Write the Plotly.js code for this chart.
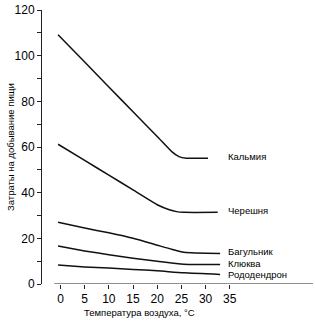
<!DOCTYPE html>
<html><head><meta charset="utf-8">
<script src="https://cdn.plot.ly/plotly-3.0.1.min.js"></script>
<style>html,body{margin:0;padding:0;background:#fff}</style>
</head><body><div id="chart" style="width:315px;height:324px"></div>
<script>
// Temperature (°C) and foraging costs
const kalmiaX = [-0.5, 5, 10, 15, 20, 23, 24.5, 26, 30.5];
const kalmiaY = [109.2, 97.2, 86.3, 75.4, 64.6, 58.0, 55.8, 55.1, 55.1];
const cherryX = [-0.5, 5, 10, 15, 20, 22.5, 24, 25.5, 32.5];
const cherryY = [61.2, 54.1, 47.7, 41.2, 34.7, 32.5, 31.7, 31.4, 31.4];
const ledumX = [-0.5, 5, 10, 15, 20, 23, 25.5, 33];
const ledumY = [27.0, 24.5, 22.4, 20.0, 17.0, 15.2, 13.9, 13.4];
const cranX = [-0.5, 5, 10, 15, 20, 25.5, 33];
const cranY = [16.6, 14.5, 12.8, 11.3, 10.0, 8.7, 8.5];
const rhodoX = [-0.5, 5, 10, 15, 20, 25.5, 33];
const rhodoY = [8.3, 7.5, 7.0, 6.4, 5.8, 4.9, 4.2];
const seriesNames = ["Кальмия", "Черешня", "Багульник", "Клюква", "Рододендрон"];
const labelY = [55.7, 32.2, 14.4, 9.0, 4.3];
const xTicks = [0, 5, 10, 15, 20, 25, 30, 35];
const yTicks = [0, 20, 40, 60, 80, 100, 120];

const xs = [kalmiaX, cherryX, ledumX, cranX, rhodoX];
const ys = [kalmiaY, cherryY, ledumY, cranY, rhodoY];
const traces = xs.map((x, i) => ({
  x: x, y: ys[i], type: 'scatter', mode: 'lines', name: seriesNames[i],
  line: {color: '#111', width: 1.5, shape: 'spline', smoothing: 0.6},
  hoverinfo: 'skip'
}));

const annotations = seriesNames.map((n, i) => ({
  x: 34.2, y: labelY[i], xref: 'x', yref: 'y', text: n, showarrow: false,
  xanchor: 'left', yanchor: 'middle',
  font: {family: 'Liberation Sans, Arial, sans-serif', size: 9.5, color: '#000'}
}));
annotations.push({
  xref: 'paper', yref: 'paper', x: (139 - 42) / 271, y: -0.105, yanchor: 'middle', xanchor: 'center',
  text: 'Температура воздуха, °С', showarrow: false,
  font: {family: 'Liberation Sans, Arial, sans-serif', size: 9.5, color: '#000'}
});
annotations.push({
  xref: 'paper', yref: 'paper', x: -0.118, y: 0.5, xanchor: 'center', yanchor: 'middle',
  text: 'Затраты на добывание пищи', textangle: -90, showarrow: false,
  font: {family: 'Liberation Sans, Arial, sans-serif', size: 9.5, color: '#000'}
});

const layout = {
  width: 315, height: 324,
  margin: {l: 42, r: 2, t: 10, b: 40},
  paper_bgcolor: '#fff', plot_bgcolor: '#fff',
  showlegend: false,
  xaxis: {
    range: [-3.82, 52.2], tickvals: xTicks, ticks: 'outside', ticklen: 4, tickcolor: '#222',
    showline: false, showgrid: false, zeroline: false,
    tickfont: {family: 'Liberation Sans, Arial, sans-serif', size: 12, color: '#000'}
  },
  yaxis: {
    range: [0, 120], tickvals: yTicks, ticks: 'outside', ticklen: 4, tickcolor: '#222',
    minor: {dtick: 10, ticks: 'outside', ticklen: 4, tickcolor: '#222'},
    showline: true, linecolor: '#222', linewidth: 1, showgrid: false, zeroline: false,
    tickfont: {family: 'Liberation Sans, Arial, sans-serif', size: 12, color: '#000'}
  },
  shapes: [{type: 'line', xref: 'x', yref: 'y', x0: -1.3, x1: 52.2, y0: 0, y1: 0,
            line: {color: '#222', width: 1.2}}],
  annotations: annotations
};
Plotly.newPlot('chart', traces, layout, {staticPlot: true, displayModeBar: false});
</script></body></html>
